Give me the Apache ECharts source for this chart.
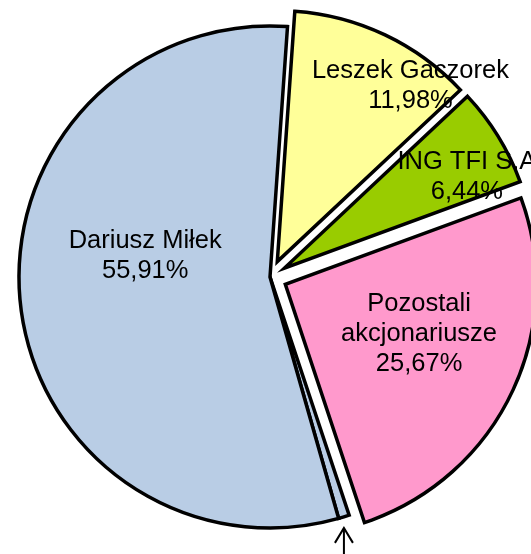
<!DOCTYPE html>
<html>
<head>
<meta charset="utf-8">
<script src="https://cdn.jsdelivr.net/npm/echarts@6/dist/echarts.min.js"></script>
<style>
html,body{margin:0;padding:0;background:#fff;}
#c{width:531px;height:554px;}
</style>
</head>
<body>
<div id="c"></div>
<script>
// ---- data ----
const names = ['Leszek Gaczorek', 'ING TFI S.A', 'Pozostali\nakcjonariusze', '', 'Dariusz Miłek'];
const values = [11.98, 6.44, 25.67, 0.7, 55.91];
const exploded = [true, true, true, false, false];
const showLabel = [true, true, true, false, true];

// ---- style ----
const colors = ['#FFFF99', '#99CC00', '#FF99CC', '#B9CDE5', '#B9CDE5'];
const labelShift = [[78, -60], [73, -24], [18, -6], [0, 0], [3, -34]];
const CX = 270, CY = 277, R = 251, START = 4; // start in degrees clockwise from 12 o'clock

const chart = echarts.init(document.getElementById('c'), null, {renderer: 'canvas'});

const data = names.map((n, i) => ({
  name: n,
  value: values[i],
  selected: exploded[i],
  itemStyle: {color: colors[i]},
  label: {show: showLabel[i]}
}));

// arrow pointing at the small slice (index 3), derived from data geometry
const total = values.reduce((a, b) => a + b, 0);
let acc = 0;
for (let i = 0; i < 3; i++) acc += values[i];
const midDeg = START + (acc + values[3] / 2) / total * 360;
const th = midDeg * Math.PI / 180;
const ax = CX + R * Math.sin(th);
const ay = CY - R * Math.cos(th) + 11;

chart.setOption({
  animation: false,
  backgroundColor: '#fff',
  series: [{
    type: 'pie',
    center: [CX, CY],
    radius: [0, R],
    startAngle: 90 - START,
    clockwise: true,
    selectedMode: 'multiple',
    selectedOffset: 17,
    silent: true,
    itemStyle: {borderColor: '#000', borderWidth: 3.5, borderJoin: 'miter'},
    select: {itemStyle: {borderColor: '#000', borderWidth: 3.5}},
    emphasis: {disabled: true},
    label: {
      show: true,
      position: 'inside',
      color: '#000',
      fontFamily: 'Liberation Sans, Arial, sans-serif',
      fontSize: 25.5,
      lineHeight: 30,
      align: 'center',
      formatter: p => p.name + '\n' + p.value.toFixed(2).replace('.', ',') + '%'
    },
    labelLine: {show: false},
    labelLayout: p => ({dx: labelShift[p.dataIndex][0], dy: labelShift[p.dataIndex][1]}),
    data: data
  }],
  graphic: [{
    type: 'group',
    children: [
      {type: 'line', shape: {x1: ax, y1: ay, x2: ax, y2: 560}, style: {stroke: '#000', lineWidth: 2}},
      {type: 'polyline', shape: {points: [[ax - 9, ay + 15], [ax, ay], [ax + 9, ay + 15]]}, style: {stroke: '#000', lineWidth: 2, fill: null}}
    ]
  }]
});
</script>
</body>
</html>
